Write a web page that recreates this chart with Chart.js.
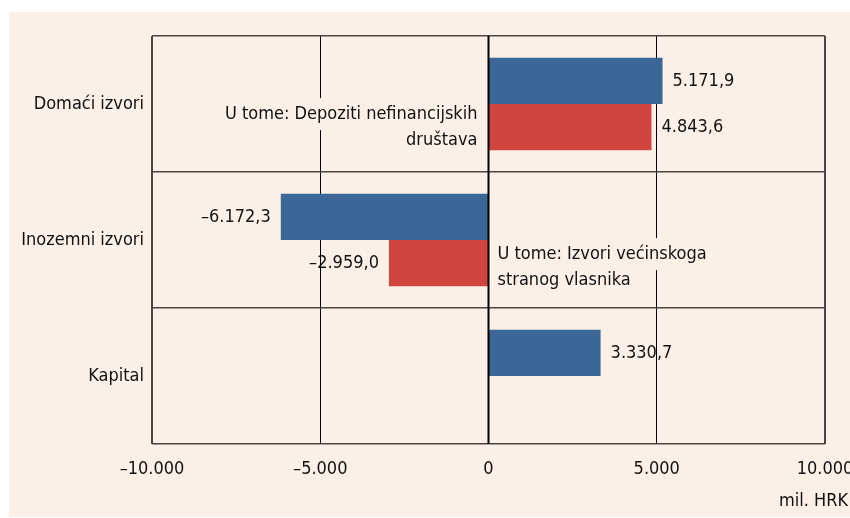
<!DOCTYPE html>
<html>
<head>
<meta charset="utf-8">
<script src="https://cdn.jsdelivr.net/npm/chart.js@4/dist/chart.umd.min.js"></script>
<style>
  html, body { margin: 0; padding: 0; background: #ffffff; }
  #wrap { width: 850px; height: 518px; }
</style>
</head>
<body>
<div id="wrap"><canvas id="sourcesChart" width="850" height="518"></canvas></div>
<script>
// izvori financiranja, mil. HRK
const categories = ['Domaći izvori', 'Inozemni izvori', 'Kapital'];
const ukupno = [5171.9, -6172.3, 3330.7];
const uTome = [4843.6, -2959.0, null];
const xTicks = [-10000, -5000, 0, 5000, 10000];
const notes = [
    ['U tome: Depoziti nefinancijskih', 'društava'],
    ['U tome: Izvori većinskoga', 'stranog vlasnika'],
    null
];
const unitLabel = 'mil. HRK';

const FONT = "'DejaVu Sans Condensed', 'Liberation Sans Narrow', sans-serif";
const FS = 18;
const PEACH = '#fbf0e7';
const FRAME = '#4a4444';

// 5171.9 -> "5.171,9", -10000 -> "–10.000"
function fmt(v, dec) {
    const s = Math.abs(v).toFixed(dec);
    let [i, d] = s.split('.');
    i = i.replace(/\B(?=(\d{3})+(?!\d))/g, '.');
    return (v < 0 ? '–' : '') + i + (d ? ',' + d : '');
}

const decor = {
    id: 'decor',
    beforeDraw(chart) {
        const c = chart.ctx;
        c.save();
        c.fillStyle = '#ffffff';
        c.fillRect(0, 0, chart.width, chart.height);
        c.fillStyle = PEACH;
        c.fillRect(9, 12, chart.width - 9, chart.height - 13);
        c.restore();
    },
    afterDatasetsDraw(chart) {
        const c = chart.ctx;
        const xs = chart.scales.x;
        const area = chart.chartArea;
        const zero = xs.getPixelForValue(0);
        c.save();

        // nul-linija preko stupaca
        c.strokeStyle = '#000';
        c.lineWidth = 2;
        c.beginPath();
        c.moveTo(zero, area.top);
        c.lineTo(zero, area.bottom);
        c.stroke();

        c.font = FS + 'px ' + FONT;
        c.textBaseline = 'middle';
        c.fillStyle = '#111';

        // vrijednosti uz stupce
        chart.data.datasets.forEach((ds, di) => {
            const meta = chart.getDatasetMeta(di);
            meta.data.forEach((bar, i) => {
                const v = ds.data[i];
                if (v === null || v === undefined) return;
                c.textAlign = v >= 0 ? 'left' : 'right';
                c.fillText(fmt(v, 1), bar.x + (v >= 0 ? 10 : -10), bar.y);
            });
        });

        // napomene "U tome"
        const redMeta = chart.getDatasetMeta(1);
        const dy = [0, 4, 0];
        notes.forEach((lines, i) => {
            if (!lines) return;
            const bar = redMeta.data[i];
            const right = uTome[i] >= 0;
            const x = right ? zero - 11 : zero + 9;
            const yc = bar.y + dy[i];
            const ys = lines.map((_, k) => yc + (k - (lines.length - 1) / 2) * 26);
            c.fillStyle = PEACH;
            lines.forEach((t, k) => {
                const w = c.measureText(t).width;
                const x0 = right ? x - w - 3 : x - 3;
                c.fillRect(x0, ys[k] - 16, w + 6, 32);
            });
            c.fillStyle = '#111';
            c.textAlign = right ? 'right' : 'left';
            lines.forEach((t, k) => c.fillText(t, x, ys[k]));
        });

        // jedinica
        c.textAlign = 'right';
        c.fillText(unitLabel, chart.width - 2, 501);
        c.restore();
    }
};

new Chart(document.getElementById('sourcesChart'), {
    type: 'bar',
    data: {
        labels: categories,
        datasets: [{
            label: 'Ukupno',
            data: ukupno,
            backgroundColor: '#3a6795',
            borderWidth: 0
        },
        {
            label: 'U tome',
            data: uTome,
            backgroundColor: '#d14541',
            borderWidth: 0
        }]
    },
    options: {
        indexAxis: 'y',
        responsive: false,
        devicePixelRatio: 1,
        animation: false,
        categoryPercentage: 0.68,
        barPercentage: 1,
        layout: { padding: { top: 36, right: 25, left: 0, bottom: 0 } },
        plugins: {
            legend: { display: false },
            tooltip: { enabled: false }
        },
        scales: {
            x: {
                min: -10000,
                max: 10000,
                afterBuildTicks(scale) {
                    scale.ticks = xTicks.map(v => ({ value: v }));
                },
                afterFit(scale) {
                    scale.height = 74;
                    scale.paddingLeft = 0;
                    scale.paddingRight = 0;
                },
                border: { display: false },
                grid: {
                    drawTicks: false,
                    color: ctx => Math.abs(ctx.tick.value) === 10000 ? FRAME : '#000',
                    lineWidth: ctx => Math.abs(ctx.tick.value) === 10000 ? 2 : 1
                },
                ticks: {
                    padding: 15,
                    color: '#111',
                    font: { family: FONT, size: FS },
                    callback: v => fmt(v, 0)
                }
            },
            y: {
                afterFit(scale) {
                    scale.width = 152;
                },
                border: { display: false },
                grid: {
                    offset: true,
                    drawTicks: false,
                    color: FRAME,
                    lineWidth: 1.5
                },
                ticks: {
                    padding: 8,
                    color: '#111',
                    font: { family: FONT, size: FS }
                }
            }
        }
    },
    plugins: [decor]
});
</script>
</body>
</html>
